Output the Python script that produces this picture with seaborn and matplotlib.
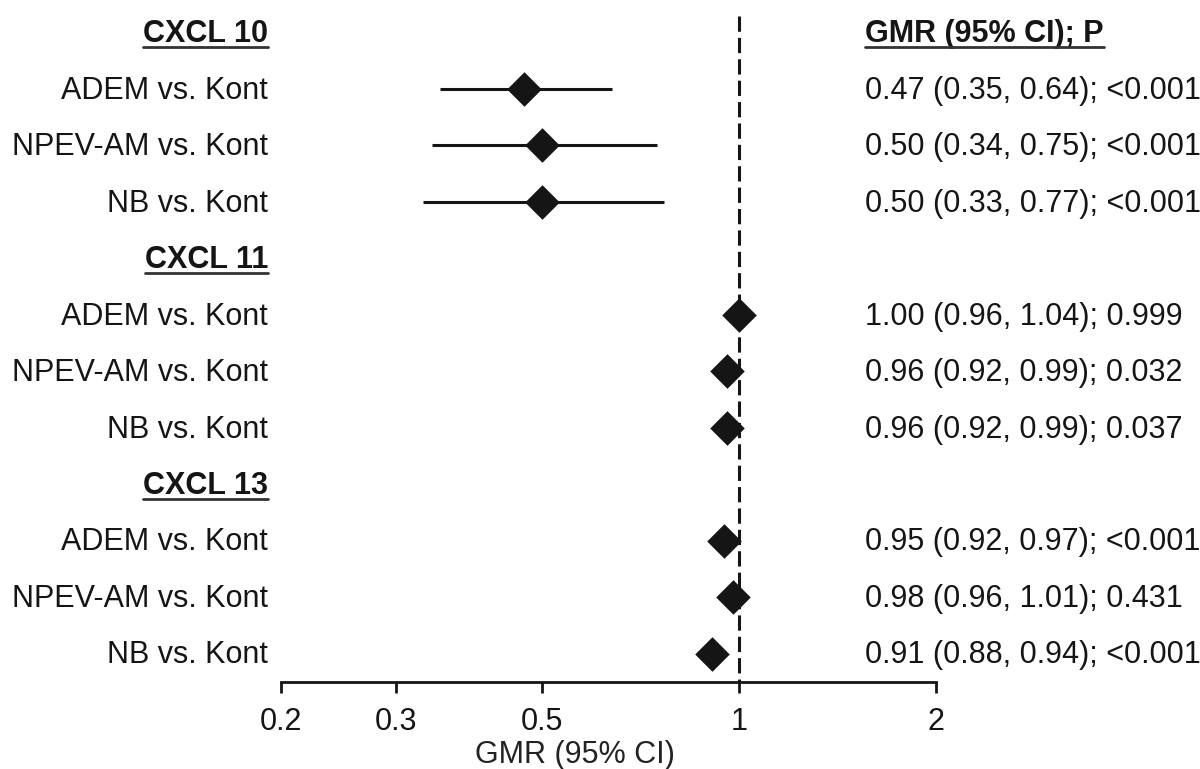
import matplotlib
matplotlib.use("Agg")
import matplotlib.pyplot as plt
import matplotlib.ticker as mticker
from matplotlib.lines import Line2D
import pandas as pd
import seaborn as sns

# data
groups = ["CXCL 10", "CXCL 11", "CXCL 13"]
comparisons = ["ADEM vs. Kont", "NPEV-AM vs. Kont", "NB vs. Kont"]
gmr = [0.47, 0.50, 0.50, 1.00, 0.96, 0.96, 0.95, 0.98, 0.91]
ci_low = [0.35, 0.34, 0.33, 0.96, 0.92, 0.92, 0.92, 0.96, 0.88]
ci_high = [0.64, 0.75, 0.77, 1.04, 0.99, 0.99, 0.97, 1.01, 0.94]
p_text = ["<0.001", "<0.001", "<0.001", "0.999", "0.032", "0.037", "<0.001", "0.431", "<0.001"]
x_ticks = [0.2, 0.3, 0.5, 1, 2]
x_tick_labels = ["0.2", "0.3", "0.5", "1", "2"]

rows = []
for gi, group in enumerate(groups):
    for ci, comp in enumerate(comparisons):
        k = gi * len(comparisons) + ci
        rows.append({
            "group": group,
            "comparison": comp,
            "row": gi * (len(comparisons) + 1) + ci + 1,
            "gmr": gmr[k],
            "lo": ci_low[k],
            "hi": ci_high[k],
            "label": f"{gmr[k]:.2f} ({ci_low[k]:.2f}, {ci_high[k]:.2f}); {p_text[k]}",
        })
df = pd.DataFrame(rows)
header_rows = [gi * (len(comparisons) + 1) for gi in range(len(groups))]

sns.set_theme(style="white")
plt.rcParams["font.family"] = ["Liberation Sans", "DejaVu Sans"]

fig = plt.figure(figsize=(12, 7.69), dpi=100)
ax = fig.add_axes([281 / 1200, 1 - 682 / 769, 655 / 1200, 682 / 769])

ink = "#151515"
fs = 22

ax.hlines(df["row"], df["lo"], df["hi"], color=ink, lw=2.2, zorder=2)
sns.scatterplot(data=df, x="gmr", y="row", marker="D", s=310, color=ink,
                edgecolor=ink, linewidth=0, zorder=3, ax=ax, legend=False)
ax.vlines(1, -0.3, 11.5, colors=ink, linestyles=(0, (5, 2)), lw=2.2, zorder=1)

ax.set_xscale("log")
ax.set_xlim(0.2, 2)
ax.set_ylim(11.5, -0.575)
ax.xaxis.set_major_locator(mticker.FixedLocator(x_ticks))
ax.xaxis.set_major_formatter(mticker.FixedFormatter(x_tick_labels))
ax.xaxis.set_minor_locator(mticker.NullLocator())
ax.set_yticks([])
ax.set_ylabel("")
ax.set_xlabel("GMR (95% CI)", fontsize=fs, color="#222222")
ax.xaxis.set_label_coords((575 - 281) / 655, -0.085)
ax.tick_params(axis="x", direction="out", length=8, width=2, pad=10,
               labelsize=fs, colors=ink, bottom=True)
for side in ["top", "left", "right"]:
    ax.spines[side].set_visible(False)
ax.spines["bottom"].set_linewidth(2)
ax.spines["bottom"].set_color(ink)

trans = ax.get_yaxis_transform()
x_left = (268 - 281) / 655
x_right = (865 - 281) / 655

underlined = []
for gi, group in enumerate(groups):
    t = ax.text(x_left, header_rows[gi] + 0.03, group, transform=trans, ha="right",
                va="center", fontsize=fs, fontweight="bold", color=ink)
    underlined.append(t)
t = ax.text(x_right, header_rows[0] + 0.03, "GMR (95% CI); P", transform=trans, ha="left",
            va="center", fontsize=fs, fontweight="bold", color=ink)
underlined.append(t)

for _, r in df.iterrows():
    ax.text(x_left, r["row"] + 0.03, r["comparison"], transform=trans, ha="right",
            va="center", fontsize=fs, color=ink)
    ax.text(x_right, r["row"] + 0.03, r["label"], transform=trans, ha="left",
            va="center", fontsize=fs, color=ink)

# matplotlib has no underline, so draw one under each header
fig.canvas.draw()
renderer = fig.canvas.get_renderer()
for t in underlined:
    bb = t.get_window_extent(renderer)
    y = (bb.y0 + 2) / fig.bbox.height
    fig.add_artist(Line2D([bb.x0 / fig.bbox.width, bb.x1 / fig.bbox.width], [y, y],
                          transform=fig.transFigure, color="#333333", lw=2))

fig.savefig("out.png", dpi=100)
plt.close(fig)
